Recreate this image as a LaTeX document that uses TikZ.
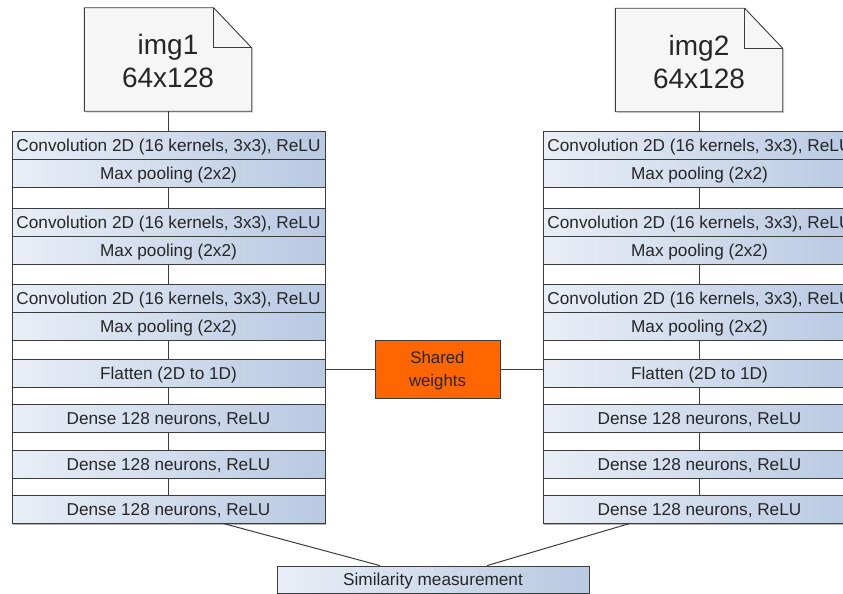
\documentclass[tikz,border=0pt]{standalone}
\usepackage{fontspec}
\setmainfont{Liberation Sans}
\usetikzlibrary{calc,shadows,backgrounds}
\definecolor{gl}{HTML}{E9EEF6}
\definecolor{gr}{HTML}{B8C9E2}
\definecolor{edge}{HTML}{3C3C3C}
\definecolor{orng}{HTML}{FF6600}
\definecolor{docfill}{HTML}{F6F6F6}
\begin{document}
\begin{tikzpicture}[x=1pt,y=-1pt,
  every node/.style={inner sep=0pt, text=black!85},
  layer/.style={draw=edge, line width=0.9pt, left color=gl, right color=gr,
    minimum width=313pt, minimum height=28pt, text depth=0pt,
    font=\fontsize{17.2}{20}\selectfont},
  frame/.style={draw=edge, line width=1pt, fill=white, minimum width=313pt,
    minimum height=392pt, drop shadow={shadow xshift=0.5pt, shadow yshift=-1.5pt, opacity=0.6}},
  docnode/.style={minimum width=167pt, minimum height=103pt, align=center,
    text height=57pt, font=\fontsize{28}{33}\selectfont},
  docshape/.style={draw=edge, line width=0.9pt, fill=docfill,
    drop shadow={shadow xshift=1.5pt, shadow yshift=-1.5pt, opacity=0.35}},
  shared/.style={draw=edge, line width=0.9pt, fill=orng, minimum width=125pt,
    minimum height=58pt, align=center, text depth=0pt,
    font=\fontsize{16.8}{23}\selectfont,
    drop shadow={shadow xshift=1pt, shadow yshift=-1pt, opacity=0.3}},
  conn/.style={draw=edge, line width=1pt}
]
\useasboundingbox (0,0) rectangle (843,594);
\clip (0,0) rectangle (843,594);

% input documents
\node[docnode] (img1) at (168,59.5) {img1\\64x128};
\node[docnode] (img2) at (699,60) {img2\\64x128};
\begin{scope}[on background layer]
  \foreach \d in {img1,img2} {
    \path[docshape] (\d.north west) -- ($(\d.north east)+(-38,0)$)
      -- ($(\d.north east)+(0,40)$) -- (\d.south east) -- (\d.south west) -- cycle;
    \draw[draw=edge, line width=0.9pt] ($(\d.north east)+(-38,0)$)
      |- ($(\d.north east)+(0,40)$);
  }
\end{scope}

% two columns
\foreach \s/\cx/\im in {L/168.5/img1, R/699.5/img2} {
  \node[frame] (frame\s) at (\cx,327) {};
  \node[layer] (conv1\s) at (\cx,145) {Convolution 2D (16 kernels, 3x3), ReLU};
  \node[layer] (pool1\s) at (\cx,173) {Max pooling (2x2)};
  \node[layer] (conv2\s) at (\cx,222) {Convolution 2D (16 kernels, 3x3), ReLU};
  \node[layer] (pool2\s) at (\cx,250) {Max pooling (2x2)};
  \node[layer] (conv3\s) at (\cx,298) {Convolution 2D (16 kernels, 3x3), ReLU};
  \node[layer] (pool3\s) at (\cx,326) {Max pooling (2x2)};
  \node[layer] (flat\s) at (\cx,373) {Flatten (2D to 1D)};
  \node[layer] (dense1\s) at (\cx,418) {Dense 128 neurons, ReLU};
  \node[layer] (dense2\s) at (\cx,464) {Dense 128 neurons, ReLU};
  \node[layer] (dense3\s) at (\cx,509) {Dense 128 neurons, ReLU};
  \draw[conn] (\im.south) -- (\im.south |- conv1\s.north);
  \draw[conn] (pool1\s.south) -- (conv2\s.north);
  \draw[conn] (pool2\s.south) -- (conv3\s.north);
  \draw[conn] (pool3\s.south) -- (flat\s.north);
  \draw[conn] (flat\s.south) -- (dense1\s.north);
  \draw[conn] (dense1\s.south) -- (dense2\s.north);
  \draw[conn] (dense2\s.south) -- (dense3\s.north);
}

% shared weights
\node[shared] (sw) at (437.5,369) {Shared\\weights};
\draw[conn] (sw.west) -- (sw.west -| frameL.east);
\draw[conn] (sw.east) -- (sw.east -| frameR.west);

% similarity
\node[layer, minimum width=312pt, minimum height=27pt] (sim) at (433,579.5) {Similarity measurement};
\draw[conn] ($(dense3L.south west)!0.674!(dense3L.south east)$) -- ($(sim.north west)!0.33!(sim.north east)$);
\draw[conn] ($(dense3R.south west)!0.278!(dense3R.south east)$) -- ($(sim.north west)!0.673!(sim.north east)$);
\end{tikzpicture}
\end{document}
